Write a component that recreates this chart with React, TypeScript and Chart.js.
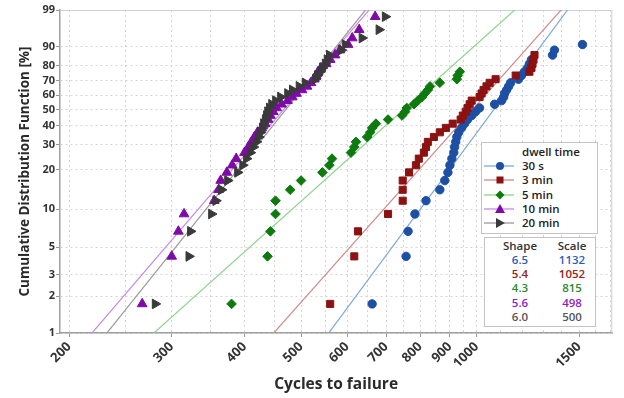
import React, { useEffect, useRef } from 'react';
import { Chart, registerables } from 'chart.js';

Chart.register(...registerables);

// ---------- data ----------
const seriesNames = ['30 s', '3 min', '5 min', '10 min', '20 min'];

// median-rank plotting positions (%) read from the y positions of the points
const rankPercents = [
  1.73, 4.21, 6.68, 9.16, 11.63, 14.11, 16.58, 19.06, 21.53, 24.01,
  26.49, 28.96, 31.44, 33.91, 36.39, 38.86, 41.34, 43.81, 46.29, 48.76,
  51.24, 53.71, 56.19, 58.66, 61.14, 63.61, 66.09, 68.56, 71.04, 73.51,
  75.99, 78.47, 80.94, 83.42, 85.89, 88.37, 90.84, 93.32, 95.79, 98.27,
];

const cycles30s = [662, 757, 763, 784, 819, 865, 882, 893, 900, 907, 914, 917, 921, 925, 932, 943, 954, 965, 981, 996, 1012, 1074, 1104, 1113, 1117, 1126, 1135, 1144, 1180, 1194, 1208, 1223, 1232, 1242, 1350, 1360, 1519];
const cycles3min = [561, 617, 626, 705, 747, 747, 747, 766, 787, 796, 812, 819, 825, 845, 865, 886, 910, 939, 947, 958, 965, 973, 981, 1012, 1020, 1028, 1040, 1053, 1078, 1167, 1232, 1242, 1247, 1252, 1257];
const cycles5min = [380, 438, 443, 452, 452, 479, 500, 544, 559, 565, 609, 617, 621, 649, 657, 662, 672, 705, 745, 754, 759, 781, 793, 806, 815, 825, 832, 865, 925, 928, 936];
const cycles10min = [267, 300, 308, 315, 355, 361, 364, 373, 381, 387, 400, 406, 411, 416, 421, 428, 434, 439, 443, 448, 454, 463, 474, 483, 491, 502, 512, 520, 527, 531, 535, 541, 552, 561, 572, 583, 602, 612, 629, 670];
const cycles20min = [281, 321, 323, 351, 357, 365, 374, 389, 397, 403, 409, 414, 419, 423, 426, 429, 431, 434, 436, 438, 441, 445, 452, 461, 474, 483, 496, 508, 529, 533, 539, 544, 550, 554, 559, 586, 595, 636, 680, 697];

const shapeParams = [6.5, 5.4, 4.3, 5.6, 6.0];
const scaleParams = [1132, 1052, 815, 498, 500];
const shapeLabels = ['6.5', '5.4', '4.3', '5.6', '6.0'];
const scaleLabels = ['1132', '1052', '815', '498', '500'];

const yTickPercents = [1, 2, 3, 5, 10, 20, 30, 40, 50, 60, 70, 80, 90, 99];
const xGridValues = [200, 250, 300, 350, 400, 450, 500, 550, 600, 650, 700, 750, 800, 850, 900, 950, 1000, 1100, 1200, 1300, 1400, 1500, 1600, 1700];
const xLabelValues = [200, 300, 400, 500, 600, 700, 800, 900, 1000, 1500];
const xMin = 193;
const xMax = 1709;

// ---------- style ----------
const markerColors = ['#1d4fa5', '#8c1212', '#0d7a0d', '#7e0ba8', '#3a3a3a'];
const lineColors = ['#7ea8dc', '#d08a8a', '#8ed38e', '#c58ae2', '#9a9a9a'];
const tableColors = ['#2b5fb3', '#9b2020', '#2c8a2c', '#8f1fc0', '#555555'];
const pointStyles = ['circle', 'rect', 'rectRot', 'triangle', 'triangle'];
const pointRotations = [0, 0, 0, 0, 90];
const pointRadii = [4.2, 5, 4.8, 5.6, 5.6];
const FONT = "'Open Sans', 'DejaVu Sans', sans-serif";

const weib = (p: number) => Math.log(-Math.log(1 - p / 100));

const framePlugin = {
  id: 'frame',
  beforeDatasetsDraw(chart: any) {
    const { ctx, chartArea: a } = chart;
    ctx.save();
    ctx.strokeStyle = '#d0d0d0';
    ctx.lineWidth = 1;
    ctx.beginPath();
    ctx.moveTo(a.left, a.top + 0.5);
    ctx.lineTo(a.right - 0.5, a.top + 0.5);
    ctx.lineTo(a.right - 0.5, a.bottom);
    ctx.stroke();
    ctx.restore();
  },
};

function LegendMarker({ s, y }: { s: number; y: number }) {
  const c = markerColors[s];
  let shape: any;
  if (s === 0) shape = <circle cx={16} cy={6} r={4} fill={c} />;
  else if (s === 1) shape = <rect x={12.5} y={2.5} width={7} height={7} fill={c} />;
  else if (s === 2) shape = <polygon points="16,1.5 20.5,6 16,10.5 11.5,6" fill={c} />;
  else if (s === 3) shape = <polygon points="16,1 21,10 11,10" fill={c} />;
  else shape = <polygon points="12,1 21,6 12,11" fill={c} />;
  return (
    <svg width={32} height={12} style={{ position: 'absolute', left: 484, top: y - 6 }}>
      <line x1={0} y1={6} x2={30} y2={6} stroke={lineColors[s]} strokeWidth={1.3} />
      {shape}
    </svg>
  );
}

export default function App() {
  const canvasRef = useRef<HTMLCanvasElement | null>(null);

  useEffect(() => {
    const cycleSeries = [cycles30s, cycles3min, cycles5min, cycles10min, cycles20min];
    const pointSets = cycleSeries.map((arr, s) => ({
      type: 'scatter',
      label: seriesNames[s],
      data: arr.map((x, i) => ({ x, y: weib(rankPercents[i]) })),
      pointStyle: pointStyles[s],
      pointRotation: pointRotations[s],
      pointRadius: pointRadii[s],
      backgroundColor: markerColors[s],
      borderColor: markerColors[s],
      borderWidth: 1,
      showLine: false,
      order: 5 - s,
    }));
    const fitSets = shapeParams.map((b, s) => ({
      type: 'scatter',
      label: seriesNames[s] + ' fit',
      data: [150, 2000].map((x) => ({ x, y: b * Math.log(x / scaleParams[s]) })),
      showLine: true,
      borderColor: lineColors[s],
      backgroundColor: lineColors[s],
      borderWidth: 1.2,
      pointRadius: 0,
      order: 10,
    }));

    const chart = new Chart(canvasRef.current as HTMLCanvasElement, {
      type: 'scatter',
      data: { datasets: [...fitSets, ...pointSets] as any },
      options: {
        animation: false,
        responsive: false,
        devicePixelRatio: 1,
        layout: { padding: { left: 0, top: 10, right: 10, bottom: 0 } },
        plugins: { legend: { display: false }, tooltip: { enabled: false } },
        scales: {
          x: {
            type: 'logarithmic',
            min: xMin,
            max: xMax,
            bounds: 'data',
            afterBuildTicks: (scale: any) => {
              scale.ticks = xGridValues.map((v) => ({ value: v }));
            },
            afterFit: (scale: any) => {
              scale.height = 65;
            },
            ticks: {
              autoSkip: false,
              minRotation: 45,
              maxRotation: 45,
              padding: 2,
              color: '#333',
              font: { family: FONT, size: 13, weight: '700' },
              callback: (v: any) => (xLabelValues.includes(Number(v)) ? String(v) : ''),
            },
            grid: {
              color: '#d4d4d4',
              lineWidth: 1,
              tickLength: 4,
              tickColor: (ctx: any) =>
                ctx.tick && xLabelValues.includes(ctx.tick.value) ? '#9a9a9a' : 'rgba(0,0,0,0)',
            },
            border: { display: true, color: '#a0a0a0', width: 1.5, dash: [2, 3] },
            title: {
              display: true,
              text: 'Cycles to failure',
              color: '#2a2a2a',
              font: { family: FONT, size: 15.5, weight: '700' },
              padding: { top: 0, bottom: 4 },
            },
          },
          y: {
            type: 'linear',
            min: weib(1),
            max: weib(99),
            bounds: 'data',
            afterBuildTicks: (scale: any) => {
              scale.ticks = yTickPercents.map((p) => ({ value: weib(p) }));
            },
            afterFit: (scale: any) => {
              scale.width = 60;
            },
            ticks: {
              autoSkip: false,
              padding: 1,
              color: '#333',
              font: { family: FONT, size: 11, weight: '700' },
              callback: (_v: any, i: number) => String(yTickPercents[i]),
            },
            grid: { color: '#d4d4d4', lineWidth: 1, tickLength: 4, tickColor: '#9a9a9a' },
            border: { display: true, color: '#a0a0a0', width: 1.5, dash: [2, 3] },
            title: {
              display: true,
              text: 'Cumulative Distribution Function [%]',
              color: '#2a2a2a',
              font: { family: FONT, size: 13.5, weight: '700' },
              padding: { top: 17, bottom: 0 },
            },
          },
        },
      } as any,
      plugins: [framePlugin],
    });
    return () => chart.destroy();
  }, []);

  const legendRows = [166, 180.3, 194.5, 208.7, 222.8];
  const tableRows = [260, 274.3, 288.4, 302.6, 316.8];
  const txt = { position: 'absolute' as const, fontSize: 11.5, lineHeight: '14px', fontWeight: 600, whiteSpace: 'nowrap' as const };

  return (
    <div style={{ position: 'absolute', left: 0, top: 0, width: 624, height: 398, background: '#fff', fontFamily: FONT, overflow: 'hidden' }}>
      <canvas ref={canvasRef} width={624} height={398} style={{ position: 'absolute', left: 0, top: 0, width: 624, height: 398 }} />
      <div style={{ position: 'absolute', left: 481, top: 142, width: 115, height: 90, border: '1px solid #c4c4c4', background: '#fff' }} />
      <div style={{ ...txt, left: 522, top: 145, color: '#222' }}>dwell time</div>
      {seriesNames.map((n, s) => (
        <React.Fragment key={n}>
          <LegendMarker s={s} y={legendRows[s]} />
          <div style={{ ...txt, left: 522, top: legendRows[s] - 7, color: '#222' }}>{n}</div>
        </React.Fragment>
      ))}
      <div style={{ position: 'absolute', left: 484, top: 237, width: 110, height: 88, border: '1px solid #c4c4c4', background: '#fff' }} />
      <div style={{ ...txt, left: 495, width: 50, textAlign: 'center', top: 239, color: '#333' }}>Shape</div>
      <div style={{ ...txt, left: 547, width: 50, textAlign: 'center', top: 239, color: '#333' }}>Scale</div>
      {shapeLabels.map((v, s) => (
        <React.Fragment key={v + s}>
          <div style={{ ...txt, left: 495, width: 50, textAlign: 'center', top: tableRows[s] - 7, color: tableColors[s] }}>{v}</div>
          <div style={{ ...txt, left: 547, width: 50, textAlign: 'center', top: tableRows[s] - 7, color: tableColors[s] }}>{scaleLabels[s]}</div>
        </React.Fragment>
      ))}
    </div>
  );
}
